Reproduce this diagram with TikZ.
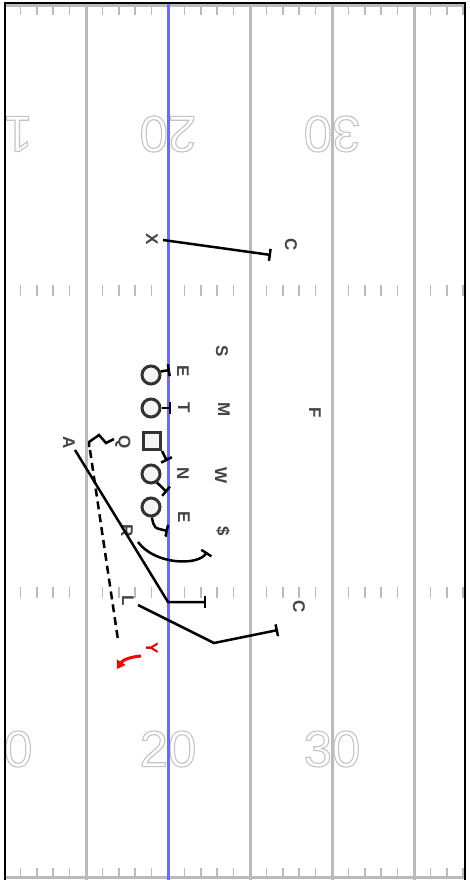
\documentclass[tikz,border=0pt]{standalone}
\usepackage{fontspec}
\setmainfont{Liberation Sans}
\usetikzlibrary{arrows.meta}
\definecolor{yard}{HTML}{BBBBBB}
\definecolor{numc}{HTML}{C4C4C4}
\definecolor{los}{HTML}{6A6AFF}
\definecolor{lblc}{HTML}{444444}
\definecolor{plc}{HTML}{333333}
\definecolor{plfill}{HTML}{F4F4F4}
\newcommand\hollowtxt[1]{\special{pdf:literal direct 1 Tr 1.1 w}#1\special{pdf:literal direct 0 Tr}}
\tikzset{
  yardline/.style={draw=yard, line width=3pt},
  hashmark/.style={draw=yard, line width=1.5pt},
  lbl/.style={text=lblc, font=\bfseries\fontsize{17}{17}\selectfont, rotate=-90, inner sep=0pt},
  num/.style={text=numc, font=\fontsize{51}{51}\selectfont, inner sep=0pt},
  player/.style={circle, draw=plc, fill=plfill, line width=3pt, minimum size=18pt, inner sep=0pt},
  centerplayer/.style={rectangle, draw=plc, fill=plfill, line width=3pt, minimum size=17pt, inner sep=0pt},
  route/.style={draw=black, line width=2.5pt},
  blk/.style={route, -{Bar[width=12pt]}},
  dashroute/.style={route, dash pattern=on 8pt off 5pt},
  redroute/.style={draw=red, line width=3pt, -{Triangle[length=8pt,width=10pt]}}
}
\begin{document}
\begin{tikzpicture}[x=1pt,y=-1pt]
\useasboundingbox (0,0) rectangle (469,880);
\fill[white] (0,0) rectangle (469,880);
\begin{scope}
\clip (4.5,3) rectangle (464.5,880);
% yard numbers
\node[num, rotate=180] (n10t) at (4,134) {\hollowtxt{10}};
\node[num, rotate=180] (n20t) at (168,134) {\hollowtxt{20}};
\node[num, rotate=180] (n30t) at (332,134) {\hollowtxt{30}};
\node[num] (n10b) at (4,749) {\hollowtxt{10}};
\node[num] (n20b) at (168,749) {\hollowtxt{20}};
\node[num] (n30b) at (332,749) {\hollowtxt{30}};
% hash marks
\foreach \k in {1,...,28}{
  \pgfmathtruncatemacro\m{mod(\k,5)}
  \ifnum\m>0
    \draw[hashmark] (4+16.4*\k,7) -- (4+16.4*\k,15);
    \draw[hashmark] (4+16.4*\k,285) -- (4+16.4*\k,296);
    \draw[hashmark] (4+16.4*\k,587) -- (4+16.4*\k,598);
    \draw[hashmark] (4+16.4*\k,868) -- (4+16.4*\k,877);
  \fi
}
% yard lines
\foreach \x in {86,250,332,414}{
  \draw[yardline] (\x,3) -- (\x,880);
}
\draw[yardline] (4,5.5) -- (465,5.5);
\draw[yardline] (4,877.5) -- (465,877.5);
\draw[draw=los, line width=3pt] (168,3) -- (168,880);
\end{scope}
\draw[black, line width=2pt] (4.5,3) rectangle (464.5,884);

% offense players
\node[player] (p1) at (151,375) {};
\node[player] (p2) at (151,408) {};
\node[centerplayer] (pc) at (152,441) {};
\node[player] (p3) at (151,474) {};
\node[player] (p4) at (151,507) {};

% labels
\node[lbl] (lX) at (152,239) {X};
\node[lbl] (lC1) at (291,245) {C};
\node[lbl] (lS) at (222,351) {S};
\node[lbl] (lE1) at (183,371) {E};
\node[lbl] (lT) at (184,408) {T};
\node[lbl] (lM) at (224,410) {M};
\node[lbl] (lF) at (315,413) {F};
\node[lbl] (lQ) at (123,442) {Q};
\node[lbl] (lA) at (69,443) {A};
\node[lbl] (lN) at (183,474) {N};
\node[lbl] (lW) at (221,476) {W};
\node[lbl] (lE2) at (184,517) {E};
\node[lbl] (lD) at (223,531) {\$};
\node[lbl] (lR) at (127,531) {R};
\node[lbl] (lL) at (128,601) {L};
\node[lbl] (lC2) at (299,607) {C};
\node[lbl, text=red!85!black] (lY) at (152,648) {Y};

% route coordinates
\coordinate (xs) at (163,240);
\coordinate (xe) at (271,255);
\coordinate (b1) at (170,370);
\coordinate (b2) at (171,408);
\coordinate (b3) at (167,461);
\coordinate (b4) at (167,492);
\coordinate (b5) at (168,531);
\coordinate (rs) at (138,542);
\coordinate (re) at (207,552);
\coordinate (as) at (75,450);
\coordinate (ac) at (168,602);
\coordinate (ae) at (206,602);
\coordinate (ls) at (138,605);
\coordinate (lc) at (214,643);
\coordinate (le) at (278,630);
\coordinate (qs) at (89,447);
\coordinate (q1) at (89,442);
\coordinate (q2) at (99,435);
\coordinate (q3) at (106,443);
\coordinate (qe) at (114,439);
\coordinate (ds) at (90,450);
\coordinate (de) at (118,640);
\coordinate (ys) at (141,656);
\coordinate (ye) at (117,669);

% routes
\draw[blk] (xs) -- (xe);
\draw[blk] (p1.20) -- (b1);
\draw[blk] (p2.east) -- (b2);
\draw[blk] (pc.south east) -- (b3);
\draw[blk] (p3.-55) .. controls (161,487) .. (b4);
\draw[blk] (p4.-85) .. controls (154,528) .. (b5);
\draw[blk] (rs) .. controls (155,565) and (198,566) .. (re);
\draw[blk] (as) -- (ac) -- (ae);
\draw[blk] (ls) -- (lc) -- (le);
\draw[route, line join=miter] (qs) -- (q1) -- (q2) -- (q3) -- (qe);
\draw[dashroute] (ds) -- (de);
\draw[redroute] (ys) .. controls (128,657) and (122,661) .. (ye);
\end{tikzpicture}
\end{document}
